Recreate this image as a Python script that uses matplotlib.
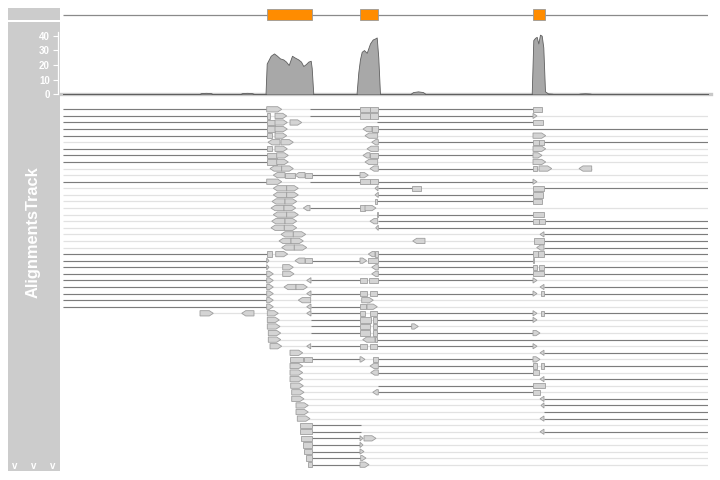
import matplotlib
matplotlib.use('Agg')
import matplotlib.pyplot as plt
from matplotlib.patches import Polygon, Rectangle

W, H = 720, 480
plt.rcParams['font.family'] = ['Liberation Sans', 'DejaVu Sans']

# gene model (positions along the region)
gene_start, gene_end = 63, 708
exon_start = [266.7, 359.5, 533.3]
exon_end = [312.3, 378.3, 545.0]

# coverage profile
cov_pos = [63, 199, 201, 206, 211, 213, 240, 242, 247, 252, 255,
           265.5, 266.7, 270.7, 274, 276.7, 280, 283.3, 286, 288.7, 292, 295,
           298.3, 301, 303.3, 306, 308.3, 310.7, 311.7, 313.3,
           356.5, 358.3, 360, 361.7, 364, 366.7, 370, 372.7, 375, 376.7, 378.3, 380,
           410, 413, 418, 423, 426,
           531.7, 533.3, 535, 536.7, 538.3, 540, 541.7, 543.3, 545, 548, 552, 555,
           577, 580, 585, 590, 593, 708]
cov_val = [0, 0, 0.8, 1.0, 0.8, 0, 0, 0.8, 1.0, 0.8, 0,
           0, 21, 26.3, 27.9, 26.5, 24.5, 23.8, 22.3, 20, 26.3, 25,
           23.8, 22.3, 19.3, 20.7, 22.3, 22.9, 18, 0,
           0, 15, 24, 29, 30.2, 28.3, 34.7, 37.4, 38.1, 38.8, 25, 0,
           0, 1.5, 2.0, 1.5, 0,
           0, 37, 38.5, 39.2, 34.7, 40.7, 40, 32, 2, 0.6, 0.4, 0,
           0, 0.5, 0.7, 0.5, 0, 0]

# alignment rows: full extent of each row (mate link)
row_span = [
    (63, 542), (63, 708), (63, 543), (63, 708), (63, 708),
    (63, 708), (63, 708), (63, 708), (63, 708), (63, 591.7),
    (63, 708), (63, 708), (63, 708), (63, 543), (63, 542),
    (63, 708), (63, 544), (63, 708), (63, 708), (63, 708),
    (63, 708), (63, 708), (63, 708), (63, 708), (63, 708),
    (63, 708), (63, 708), (63, 708), (63, 708), (63, 708),
    (63, 708), (200, 708), (267.3, 708), (267.3, 708), (268.3, 708),
    (268.3, 708), (270, 708), (290, 708), (290, 708), (290, 708),
    (290, 708), (290, 708), (290.7, 708), (291.7, 708), (291.7, 708),
    (296, 708), (296, 708), (297.3, 708), (300, 708), (300, 708),
    (301, 708), (302.7, 708), (304, 708), (306, 708), (308.3, 708),
]

# spliced gaps (row, start, end)
gaps = [
    (0, 63, 266.7), (0, 310, 360), (0, 378.3, 533),
    (1, 63, 266.7), (1, 310, 360), (1, 378.3, 533),
    (2, 63, 266.7), (2, 376.7, 533),
    (3, 63, 266.7), (3, 378, 708),
    (4, 63, 266.7),
    (5, 378.3, 533), (5, 544, 708),
    (6, 63, 266.7),
    (7, 63, 266.7), (7, 378, 533),
    (8, 63, 266.7),
    (9, 378.3, 533),
    (10, 311.7, 360),
    (11, 63, 266.7), (11, 310, 360), (11, 378.3, 533),
    (12, 378, 411.7), (12, 544, 708),
    (13, 378.3, 533),
    (14, 376, 533),
    (15, 310, 360),
    (16, 377.7, 533),
    (17, 377.7, 533), (17, 545, 708),
    (18, 378.3, 708),
    (19, 544, 708), (20, 544, 708), (21, 544, 708),
    (22, 63, 266.7), (22, 378.3, 533), (22, 544, 708),
    (23, 63, 266.7), (23, 311.7, 360), (23, 378.3, 533),
    (24, 63, 266.7), (24, 378.3, 533), (24, 544.3, 708),
    (25, 63, 266.7), (25, 378.3, 533), (25, 544, 708),
    (26, 63, 266.7), (26, 311, 360), (26, 378.3, 533),
    (27, 63, 266.7), (27, 544, 708),
    (28, 63, 266.7), (28, 311, 360), (28, 377.3, 533), (28, 544, 708),
    (29, 63, 266.7),
    (30, 63, 266.7), (30, 311, 360),
    (31, 311, 360), (31, 377.3, 533), (31, 544, 708),
    (32, 310.7, 360), (32, 377.3, 533),
    (33, 310.7, 360), (33, 377.3, 411.7),
    (34, 310.7, 360), (34, 377.3, 533),
    (35, 377.3, 708),
    (36, 311, 360), (36, 377.3, 533),
    (37, 544, 708),
    (38, 311.7, 360), (38, 378.3, 533),
    (39, 378.3, 533), (39, 544, 708),
    (40, 378.3, 533),
    (41, 544, 708),
    (42, 378.3, 533),
    (43, 378.3, 533),
    (44, 544, 708), (45, 544, 708), (46, 544, 708), (47, 544, 708),
    (48, 311.7, 360.7),
    (49, 311.7, 360.7), (49, 544, 708),
    (50, 311.7, 360), (51, 311.7, 360), (52, 311.7, 360),
    (53, 311.7, 360.7), (54, 311.7, 360),
]

# aligned read pieces (row, start, end, strand)
reads = [
    (0, 266.7, 281.7, '+'), (0, 360, 370, ''), (0, 370, 378.3, ''), (0, 533, 542, ''),
    (1, 266.7, 270, ''), (1, 275, 286.7, '+'), (1, 360, 370, ''), (1, 370, 378.3, ''), (1, 533, 537, '+'),
    (2, 266.7, 275, ''), (2, 275, 287.3, '+'), (2, 290, 301.7, '+'), (2, 533, 543, ''),
    (3, 266.7, 275, ''), (3, 275, 287.3, '+'), (3, 363, 372, '-'), (3, 372, 378, ''),
    (4, 266.7, 271.7, ''), (4, 275, 286.7, '+'), (4, 365, 377.7, '-'), (4, 533, 545.7, '+'),
    (5, 268, 280, '-'), (5, 281, 293.3, '+'), (5, 371.7, 378.3, '-'), (5, 533, 539, ''), (5, 539, 544, ''),
    (6, 266.7, 271.7, ''), (6, 275, 287.3, '+'), (6, 367, 378.3, '-'), (6, 533, 545.7, '+'),
    (7, 266.7, 276.7, ''), (7, 276.7, 288.3, '+'), (7, 363, 370, '-'), (7, 370, 378, ''), (7, 533, 542, '+'),
    (8, 266.7, 276.7, ''), (8, 276.7, 288.3, '+'), (8, 365, 377.7, '-'), (8, 533, 545.7, '+'),
    (9, 270, 281.7, '-'), (9, 281.7, 293.3, '+'), (9, 370, 378.3, '-'), (9, 533, 536.7, ''),
    (9, 539, 551.7, '+'), (9, 579, 591.7, '-'),
    (10, 273.3, 285, '-'), (10, 285, 295, ''), (10, 295, 305, '-'), (10, 305, 311.7, ''), (10, 360, 368.3, '+'),
    (11, 266.7, 281.7, '+'), (11, 360, 370, ''), (11, 370, 378.3, ''), (11, 533, 537, '+'),
    (12, 273.3, 286.7, '-'), (12, 286.7, 298.3, '+'), (12, 375, 378, '-'), (12, 411.7, 420.7, ''), (12, 533, 544, ''),
    (13, 273.3, 286.7, '-'), (13, 286.7, 298.3, '+'), (13, 375, 378.3, '-'), (13, 533, 543, ''),
    (14, 272, 285, '-'), (14, 285, 296.7, '+'), (14, 375, 376.5, ''), (14, 533, 542, ''),
    (15, 271, 284, '-'), (15, 284, 295.7, '+'), (15, 303.3, 310, '-'), (15, 360, 365, ''), (15, 365, 376, '+'),
    (16, 273.3, 286.7, '-'), (16, 286.7, 298.3, '+'), (16, 376.5, 377.7, ''), (16, 533, 544, ''),
    (17, 271.7, 285, '-'), (17, 285, 296.7, '+'), (17, 370, 377.7, '-'), (17, 533, 539, ''), (17, 539, 545, ''),
    (18, 271, 284.3, '-'), (18, 284.3, 296.7, '+'), (18, 375.7, 378.3, '-'),
    (19, 281, 293.3, '-'), (19, 293.3, 305.7, '+'), (19, 540, 544, '-'),
    (20, 279, 291, '-'), (20, 291, 303.3, '+'), (20, 412.7, 425, '-'), (20, 534, 544, ''),
    (21, 281.7, 294.3, '-'), (21, 294.3, 306.7, '+'), (21, 536.7, 544, '-'),
    (22, 266.7, 272.3, ''), (22, 275.7, 287.7, '+'), (22, 368.3, 375, '-'), (22, 375, 378.3, ''),
    (22, 533, 538, ''), (22, 538, 544, ''),
    (23, 266.7, 269, '+'), (23, 295, 305, '-'), (23, 305, 311.7, ''), (23, 360, 366.7, '+'),
    (23, 368.3, 378.3, ''), (23, 533, 534, ''),
    (24, 266.7, 269, '+'), (24, 282.7, 293.3, '+'), (24, 371.7, 378.3, '-'), (24, 533, 536.7, ''), (24, 539.3, 544.3, ''),
    (25, 266.7, 273.3, '+'), (25, 282.7, 294, '+'), (25, 371.7, 378.3, '-'), (25, 533, 544, ''),
    (26, 266.7, 273.3, '+'), (26, 306.7, 311, '-'), (26, 360, 366.7, ''), (26, 369, 378.3, ''), (26, 533, 537, '+'),
    (27, 266.7, 273.3, '+'), (27, 284, 296, '-'), (27, 296, 307.3, '+'), (27, 540, 544, '-'),
    (28, 266.7, 273.3, '+'), (28, 306.7, 311, '-'), (28, 360, 366.7, ''), (28, 370, 377.3, ''),
    (28, 533, 537, '+'), (28, 541, 544, ''),
    (29, 266.7, 273.3, '+'), (29, 298.3, 310.7, '-'), (29, 361.7, 373.3, '+'),
    (30, 266.7, 273.3, '+'), (30, 306.7, 311, '-'), (30, 360, 366, ''), (30, 367, 377.3, '+'),
    (31, 200, 213.3, '+'), (31, 241.7, 254, '-'), (31, 267.3, 278.3, '+'), (31, 306.7, 311, '-'),
    (31, 360, 365, ''), (31, 370, 377.3, ''), (31, 533, 537, '+'), (31, 541, 544, ''),
    (32, 267.3, 279.3, '+'), (32, 360, 370.7, ''), (32, 372.7, 377.3, ''), (32, 533, 537, '+'),
    (33, 267.3, 280, '+'), (33, 360, 370, ''), (33, 372.7, 377.3, ''), (33, 411.7, 418.3, '+'),
    (34, 268.3, 280.7, '+'), (34, 360, 370, ''), (34, 373.3, 377.3, ''), (34, 533, 540, '+'),
    (35, 268.3, 280.7, '+'), (35, 362.7, 375, '-'), (35, 375, 377.3, ''),
    (36, 270, 281.7, '+'), (36, 306.7, 310.7, '-'), (36, 360, 366.7, ''), (36, 370, 377.3, ''), (36, 533, 537, '+'),
    (37, 290, 302.7, '+'), (37, 540, 544, '-'),
    (38, 290, 303.3, ''), (38, 304, 311.7, ''), (38, 360, 365, '+'), (38, 373.3, 378.3, ''), (38, 533, 540, '+'),
    (39, 290, 302.7, '+'), (39, 370, 378.3, '-'), (39, 533, 537, ''), (39, 541, 544, ''),
    (40, 290, 302.7, '+'), (40, 370.7, 378.3, '-'), (40, 533, 539, ''),
    (41, 290, 302.7, '+'), (41, 540, 544, '-'),
    (42, 290.7, 303.3, '+'), (42, 533, 545, ''),
    (43, 291.7, 304, '+'), (43, 372.7, 378.3, '-'), (43, 533, 540, ''),
    (44, 291.7, 304, '+'), (44, 540, 544, '-'),
    (45, 296, 308.3, '+'), (45, 541, 544, '-'),
    (46, 296, 308.3, '+'),
    (47, 297.3, 310, '+'), (47, 540, 544, '-'),
    (48, 300, 311.7, ''),
    (49, 300, 311.7, ''), (49, 540, 544, '-'),
    (50, 301, 311.7, ''), (50, 360, 363, '+'), (50, 364, 376, '+'),
    (51, 302.7, 311.7, ''), (51, 360, 363, '+'),
    (52, 304, 311.7, ''), (52, 360, 364, '+'),
    (53, 306, 311.7, ''), (53, 360.7, 366, '+'),
    (54, 308.3, 311.7, ''), (54, 360, 369, '+'),
]


def fbox(x0, y0, x1, y1):
    # pixel box -> figure fraction [left, bottom, width, height]
    return [x0 / W, 1 - y1 / H, (x1 - x0) / W, (y1 - y0) / H]


fig = plt.figure(figsize=(W / 100, H / 100), dpi=100)

# grey title panels on the left (behind the axes)
panel = '#cccccc'
for (x0, y0, x1, y1) in [(8, 8, 60, 20), (8, 22, 60, 471)]:
    b = fbox(x0, y0, x1, y1)
    fig.patches.append(Rectangle((b[0], b[1]), b[2], b[3], transform=fig.transFigure,
                                 facecolor=panel, edgecolor='none', zorder=-5))
fig.text(33 / W, 1 - 232 / H, 'AlignmentsTrack', rotation=90, color='white',
         fontsize=11.8, fontweight='bold', ha='center', va='center')
for cx in [15, 33.5, 52.5]:
    fig.text(cx / W, 1 - 466 / H, 'v', color='white', fontsize=7,
             fontweight='bold', ha='center', va='center')

# gene track
axg = fig.add_axes(fbox(63, 4, 708, 25))
axg.set_xlim(63, 708)
axg.set_ylim(-1, 1)
axg.hlines(0, gene_start, gene_end, color='#8a8a8a', lw=0.9)
for s, e in zip(exon_start, exon_end):
    axg.add_patch(Rectangle((s, -0.51), e - s, 1.02, facecolor='#ff8c00',
                            edgecolor='#999999', lw=0.6, zorder=3))
axg.axis('off')

# coverage track
axc = fig.add_axes(fbox(63, 22, 708, 94.3))
axc.set_xlim(63, 708)
axc.set_ylim(0, 49.35)
axc.axhline(0, xmin=-3 / 645, xmax=1 + 3 / 645, color='#c8c8c8', lw=2.4, clip_on=False, zorder=1)
axc.fill_between(cov_pos, cov_val, 0, facecolor='#a8a8a8', edgecolor='#5f5f5f', lw=0.6, zorder=2)
for sp in ['top', 'right', 'bottom']:
    axc.spines[sp].set_visible(False)
axc.patch.set_alpha(0)
axc.spines['left'].set_position(('outward', 3.6))
axc.spines['left'].set_bounds(0, 42.7)
axc.spines['left'].set_color('white')
axc.spines['left'].set_linewidth(0.9)
axc.set_xticks([])
axc.set_yticks([0, 10, 20, 30, 40])
axc.tick_params(axis='y', colors='white', length=3.5, width=0.8, labelsize=7, pad=2.5)
for lab in axc.get_yticklabels():
    lab.set_fontweight('bold')

# alignment pileup
axr = fig.add_axes(fbox(63, 104.4, 708, 469.6))
axr.set_xlim(63, 708)
axr.set_ylim(54.75, -0.75)
axr.axis('off')

rows = list(range(len(row_span)))
axr.hlines(rows, [s for s, e in row_span], [e for s, e in row_span],
           color='#e2e2e2', lw=0.9, zorder=1)
axr.hlines([g[0] for g in gaps], [g[1] for g in gaps], [g[2] for g in gaps],
           color='#7c7c7c', lw=0.8, zorder=2)

hh = 0.4   # half read height (rows)
tip = 4.0  # arrow length
for r, s, e, strand in reads:
    t = min(tip, e - s)
    if strand == '+':
        pts = [(s, r - hh), (e - t, r - hh), (e, r), (e - t, r + hh), (s, r + hh)]
    elif strand == '-':
        pts = [(s, r), (s + t, r - hh), (e, r - hh), (e, r + hh), (s + t, r + hh)]
    else:
        pts = [(s, r - hh), (e, r - hh), (e, r + hh), (s, r + hh)]
    axr.add_patch(Polygon(pts, closed=True, facecolor='#d4d4d4', edgecolor='#9e9e9e',
                          lw=0.6, zorder=3))

fig.savefig('out.png', dpi=100)
